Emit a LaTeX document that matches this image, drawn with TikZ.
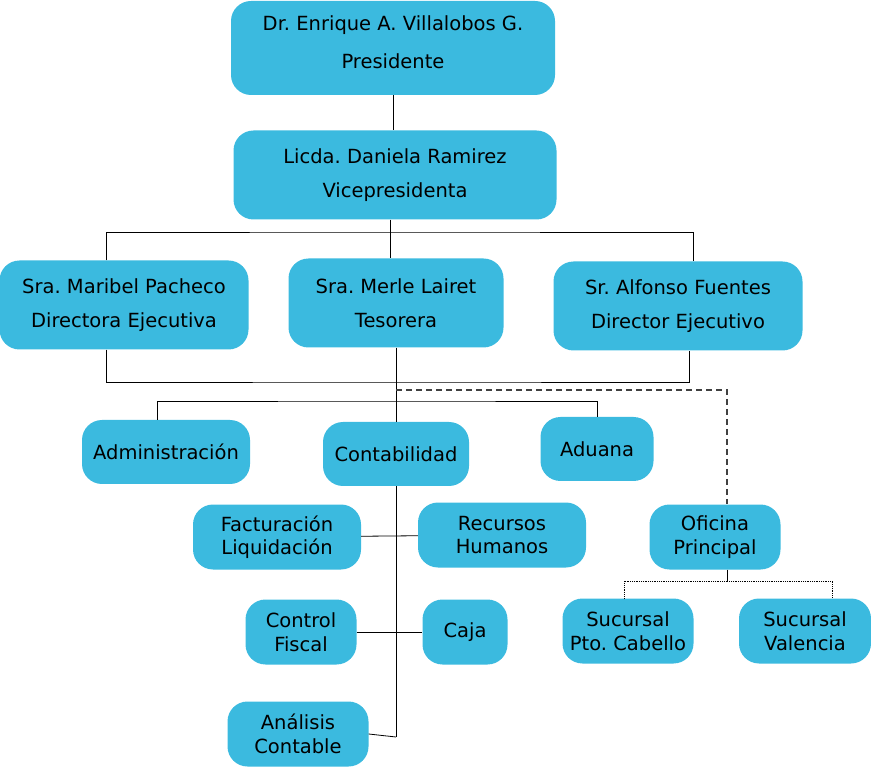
\documentclass[tikz,border=0pt]{standalone}
\usepackage{fontspec}
\setmainfont{DejaVu Sans}
\usepackage{xcolor}
\usepackage{tikz}
\usetikzlibrary{positioning, calc}

\definecolor{orgblue}{HTML}{3BBADF}
\frenchspacing

\begin{document}
\begin{tikzpicture}[
    x=1pt, y=-1pt,
    box/.style={rectangle, rounded corners=20pt, fill=orgblue, align=center,
      inner sep=0pt, font=\fontsize{19.5}{23.5}\selectfont},
    link/.style={draw=black, line width=0.8pt}
]
\useasboundingbox (0,0) rectangle (871,767);

% top of the chart
\node[box, minimum width=324pt, minimum height=94pt] (pres) at (393,48)
  {Dr. Enrique A. Villalobos G.\\[14pt]Presidente\rule[-12pt]{0pt}{12pt}};
\node[box, minimum width=323pt, minimum height=89pt] (vice) at (395,175)
  {Licda. Daniela Ramirez\\[10pt]Vicepresidenta};
\node[box, minimum width=249pt, minimum height=89pt] (maribel) at (124,305)
  {Sra. Maribel Pacheco\\[10pt]Directora Ejecutiva};
\node[box, minimum width=215pt, minimum height=89pt] (merle) at (396,303)
  {Sra. Merle Lairet\\[10pt]Tesorera};
\node[box, minimum width=249pt, minimum height=89pt] (alfonso) at (678,306)
  {Sr. Alfonso Fuentes\\[11pt]Director Ejecutivo};

% departments
\node[box, minimum width=168pt, minimum height=64pt] (admin) at (166,452) {Administración};
\node[box, minimum width=146pt, minimum height=64pt] (conta) at (396,454) {Contabilidad};
\node[box, minimum width=113pt, minimum height=64pt] (aduana) at (597,449) {Aduana};
\node[box, minimum width=168pt, minimum height=65pt] (factura) at (277,537) {Facturación\\Liquidación};
\node[box, minimum width=168pt, minimum height=65pt] (recursos) at (502,535) {Recursos\\Humanos};
\node[box, minimum width=131pt, minimum height=65pt] (oficina) at (715,537) {Oficina\\Principal};
\node[box, minimum width=111pt, minimum height=65pt] (control) at (301,632) {Control\\Fiscal};
\node[box, minimum width=85pt, minimum height=65pt] (caja) at (465,632) {Caja};
\node[box, minimum width=131pt, minimum height=65pt] (pcabello) at (628,631) {Sucursal\\Pto. Cabello};
\node[box, minimum width=132pt, minimum height=65pt] (valencia) at (805,631) {Sucursal\\Valencia};
\node[box, minimum width=141pt, minimum height=65pt] (analisis) at (298,734) {Análisis\\Contable};

% bus points
\coordinate (busA) at (390,232);
\coordinate (busB) at (396,382);
\coordinate (dashA) at (396,390);
\coordinate (busC) at (396,401);
\coordinate (contaEnd) at (396,737);
\coordinate (busD) at (727,581);

\draw[link] (pres.south) -- (pres.south |- vice.north);
\draw[link] (busA |- vice.south) -- (busA);
\draw[link] ([xshift=-18pt]maribel.north) |- (busA) -| ([xshift=15pt]alfonso.north);
\draw[link] (busA) -- (busA |- merle.north);
\draw[link] ([xshift=-18pt]maribel.south) |- (busB) -| ([xshift=11pt]alfonso.south);
\draw[link] (merle) -- (conta);
\draw[link, line width=1.1pt, dash pattern=on 6pt off 4pt, draw=black!75] (dashA) -| ([xshift=12pt]oficina.north);
\draw[link] ([xshift=-9pt]admin.north) |- (busC) -| (aduana.north);
\draw[link] (conta) -- (contaEnd);
\draw[link] (analisis.east) -- (contaEnd);
\draw[link] (factura) -- (recursos);
\draw[link] (control) -- (caja);
\draw[link] ([xshift=12pt]oficina.south) -- (busD);
\draw[link, densely dotted, line width=0.6pt] ([xshift=-4pt]pcabello.north) |- (busD) -| ([xshift=27pt]valencia.north);
\end{tikzpicture}
\end{document}
